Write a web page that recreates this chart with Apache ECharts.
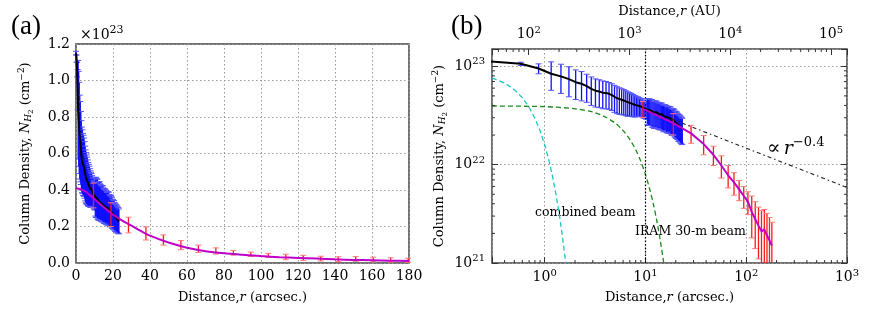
<!DOCTYPE html>
<html><head><meta charset="utf-8">
<script src="https://cdn.jsdelivr.net/npm/echarts@6/dist/echarts.min.js"></script>
<style>html,body{margin:0;padding:0;background:#fff}#c{width:872px;height:309px}</style>
</head><body><div id="c"></div>
<script>
// ---------------- DATA (column density in units of 1e23 cm^-2, radius in arcsec) ----------------
const blueStep = 0.29;            // spacing of the interferometric profile samples (arcsec)
const blackN = [1.15,1.12,1.06,0.95,0.84,0.79,0.74,0.69,0.665,0.63,
  0.59,0.565,0.555,0.54,0.535,0.525,0.51,0.49,0.475,0.465,
  0.457,0.45,0.44,0.43,0.425,0.42,0.412,0.405,0.402,0.40,
  0.395,0.39,0.385,0.375,0.37,0.365,0.362,0.36,0.358,0.355,
  0.35,0.342,0.338,0.34,0.342,0.336,0.33,0.326,0.325,0.327,
  0.326,0.318,0.312,0.31,0.312,0.311,0.305,0.30,0.298,0.30,
  0.302,0.298,0.29,0.285,0.284,0.286,0.284,0.276,0.27,0.266,
  0.265,0.262,0.256,0.25,0.248,0.246,0.242,0.238,0.235,0.232,0.228];
const blueErr = [0.01,0.02,0.04,0.11,0.27,0.26,0.25,0.23,0.22,0.2,
  0.19,0.18,0.175,0.17,0.165,0.16,0.155,0.15,0.145,0.14,
  0.135,0.13,0.125,0.12,0.115,0.11,0.105,0.1,0.095,0.09,
  0.085,0.08,0.08,0.078,0.076,0.075,0.105,0.11,0.108,0.104,
  0.11,0.1,0.105,0.1,0.104,0.098,0.1,0.097,0.1,0.095,
  0.098,0.094,0.096,0.092,0.095,0.09,0.093,0.09,0.088,0.092,
  0.088,0.09,0.086,0.087,0.084,0.086,0.083,0.084,0.08,0.081,
  0.078,0.08,0.076,0.077,0.073,0.075,0.072,0.073,0.07,0.071,0.068];

const redStep = 9.45;             // spacing of single-dish profile samples (arcsec)
const redN   = [0.37,0.265,0.208,0.162,0.126,0.098,0.078,0.066,0.056,0.048,0.042,0.033,0.028,0.024,0.021,0.022,0.019,0.017,0.015];
const redErr = [0.068,0.065,0.043,0.036,0.028,0.025,0.02,0.017,0.013,0.012,0.011,0.015,0.014,0.013,0.013,0.013,0.013,0.012,0.011];

const modelR = [0,2.5,5,7.5,10,12.5,15,17.5,20,25,30,35,40,50,60,70,80,90,100,110,120,130,140,150,160,170,180];
const modelN = [0.41,0.405,0.392,0.372,0.35,0.327,0.305,0.285,0.265,0.232,0.205,0.176,0.15,0.112,0.084,0.065,0.053,0.045,0.038,0.032,0.028,0.024,0.02,0.017,0.015,0.013,0.011];

const cyanR = [0.3,0.4,0.5,0.6,0.7,0.8,0.9,1.0,1.1,1.2,1.3,1.4,1.5,1.6,1.7];
const cyanN = [0.762,0.676,0.579,0.479,0.383,0.296,0.221,0.159,0.111,0.0748,0.0486,0.0306,0.0186,0.0109,0.0062];

const greenR = [0.3,1,2,3,4,5,6,7,8,9,10,11,12,13,14,15,16];
const greenN = [0.395,0.389,0.37,0.343,0.305,0.265,0.222,0.18,0.142,0.108,0.0795,0.0566,0.0394,0.0264,0.0172,0.0109,0.0066];

const powR = [18, 1000];
const powN = [0.292, 0.0586];

const distPc = 144;               // AU per arcsec
const leftXTicks = [0,20,40,60,80,100,120,140,160,180];
const leftYTicks = ['0.0','0.2','0.4','0.6','0.8','1.0','1.2'];
const markR = 10;

// ---------------- build ----------------
const blueData = blackN.map((v, i) => [i * blueStep, v, blueErr[i]]);
const blackData = blackN.map((v, i) => [i * blueStep, v]);
const redData = redN.map((v, i) => [(i + 1) * redStep, v, redErr[i]]);
const redLine = redN.map((v, i) => [(i + 1) * redStep, v]);
const modelData = modelR.map((r, i) => [r, modelN[i]]);
const cyanData = cyanR.map((r, i) => [r, cyanN[i]]);
const greenData = greenR.map((r, i) => [r, greenN[i]]);
const powData = powR.map((r, i) => [r, powN[i]]);
const blueLog = blueData.filter(d => d[0] > 0);
const blackLog = blackData.filter(d => d[0] > 0);

const SERIF = '"DejaVu Serif", serif';
const dotted = {color: '#9a9a9a', type: [1.5, 2.5], width: 1};

const richSup = {
  b: {fontFamily: SERIF, fontSize: 14, color: '#000'},
  s: {fontFamily: SERIF, fontSize: 10, color: '#000', padding: [0, 0, 9, 0]}
};
function logLabel(offset) {
  return function (v) {
    const e = Math.log10(v);
    const r = Math.round(e);
    if (Math.abs(e - r) > 1e-6) return '';
    return '{b|10}{s|' + (r + offset) + '}';
  };
}
const nameX = {fontFamily: SERIF, fontSize: 13, color: '#000',
  rich: {i: {fontFamily: SERIF, fontSize: 13, fontStyle: 'italic', color: '#000'}}};
const nameY = {fontFamily: SERIF, fontSize: 13, color: '#000',
  rich: {
    i: {fontFamily: SERIF, fontSize: 13, fontStyle: 'italic', color: '#000'},
    sub: {fontFamily: SERIF, fontSize: 9, fontStyle: 'italic', color: '#000', padding: [7, 0, 0, 0]},
    sub2: {fontFamily: SERIF, fontSize: 7, color: '#000', padding: [12, 0, 0, 0]},
    sup: {fontFamily: SERIF, fontSize: 9, color: '#000', padding: [0, 0, 8, 0]}
  }};
const yName = 'Column Density, {i|N}{sub|H}{sub2|2} (cm{sup|−2})';

function errBar(color, capColor, logY) {
  return function (params, api) {
    const x = api.value(0), y = api.value(1), e = api.value(2);
    const cs = params.coordSys;
    const top = cs.y, bottom = cs.y + cs.height;
    const pHi = api.coord([x, y + e]);
    const px = pHi[0];
    if (px < cs.x - 0.5 || px > cs.x + cs.width + 0.5) return null;
    let yLo;
    if (logY && y - e <= 0) yLo = bottom + 20; else yLo = api.coord([x, y - e])[1];
    const y0 = Math.min(yLo, bottom), y1 = Math.max(pHi[1], top);
    const ch = [{type: 'line', shape: {x1: px, y1: y1, x2: px, y2: y0}, style: {stroke: color, lineWidth: 1.3}}];
    const c = 3;
    if (pHi[1] >= top) ch.push({type: 'line', shape: {x1: px - c, y1: pHi[1], x2: px + c, y2: pHi[1]}, style: {stroke: capColor, lineWidth: 1}});
    if (yLo <= bottom) ch.push({type: 'line', shape: {x1: px - c, y1: yLo, x2: px + c, y2: yLo}, style: {stroke: capColor, lineWidth: 1}});
    return {type: 'group', children: ch};
  };
}

// minor tick values (2..9 x decades)
function minorVals(lo, hi) {
  const out = [];
  for (let d = Math.floor(Math.log10(lo)); d <= Math.ceil(Math.log10(hi)); d++)
    for (let m = 2; m <= 9; m++) { const v = m * Math.pow(10, d); if (v > lo && v < hi) out.push(v); }
  return out;
}
const tickStyle = {stroke: '#333', lineWidth: 1};
function xMinor(side) {
  return function (params, api) {
    const cs = params.coordSys;
    const x = api.coord([api.value(0), 0.1])[0];
    if (x <= cs.x || x >= cs.x + cs.width) return null;
    const y = side === 'bottom' ? cs.y + cs.height : cs.y;
    const d = side === 'bottom' ? -3 : 3;
    return {type: 'line', shape: {x1: x, y1: y, x2: x, y2: y + d}, style: tickStyle};
  };
}
function yMinor(params, api) {
  const cs = params.coordSys;
  const y = api.coord([1, api.value(1)])[1];
  if (y <= cs.y || y >= cs.y + cs.height) return null;
  return {type: 'group', children: [
    {type: 'line', shape: {x1: cs.x, y1: y, x2: cs.x + 3, y2: y}, style: tickStyle},
    {type: 'line', shape: {x1: cs.x + cs.width, y1: y, x2: cs.x + cs.width - 3, y2: y}, style: tickStyle}
  ]};
}

const majorTick = {show: true, inside: true, length: 6, lineStyle: {color: '#333', width: 1}};

const option = {
  animation: false,
  textStyle: {fontFamily: SERIF},
  grid: [
    {left: 76, top: 44, width: 333, height: 222, show: true, borderColor: '#444', borderWidth: 1.5, backgroundColor: 'transparent'},
    {left: 492, top: 44, width: 355, height: 223, show: true, borderColor: '#444', borderWidth: 1.5, backgroundColor: 'transparent'}
  ],
  xAxis: [
    {gridIndex: 0, type: 'value', min: leftXTicks[0], max: leftXTicks[leftXTicks.length - 1], interval: 20,
      axisLine: {show: false}, axisTick: {show: false},
      axisLabel: {fontFamily: SERIF, fontSize: 14, color: '#000', margin: 6},
      splitLine: {show: true, lineStyle: dotted},
      name: 'Distance,{i|r} (arcsec.)', nameLocation: 'middle', nameGap: 28, nameTextStyle: nameX},
    {gridIndex: 1, type: 'log', min: 0.3, max: 1000, position: 'bottom',
      axisLine: {show: false}, axisTick: majorTick,
      axisLabel: {formatter: logLabel(0), rich: richSup, margin: 5},
      splitLine: {show: true, lineStyle: dotted},
      name: 'Distance,{i|r} (arcsec.)', nameLocation: 'middle', nameGap: 28, nameTextStyle: nameX},
    {gridIndex: 1, type: 'log', min: 0.3 * distPc, max: 1000 * distPc, position: 'top',
      axisLine: {show: false}, axisTick: majorTick,
      axisLabel: {formatter: logLabel(0), rich: richSup, margin: 5},
      splitLine: {show: false},
      name: 'Distance,{i|r} (AU)', nameLocation: 'middle', nameGap: 31, nameTextStyle: nameX}
  ],
  yAxis: [
    {gridIndex: 0, type: 'value', min: 0, max: 1.2, interval: 0.2,
      axisLine: {show: false}, axisTick: {show: false},
      axisLabel: {formatter: v => leftYTicks[Math.round(v / 0.2)] || '', fontFamily: SERIF, fontSize: 14, color: '#000', margin: 6},
      splitLine: {show: true, lineStyle: dotted},
      name: yName, nameLocation: 'middle', nameGap: 41, nameRotate: 90, nameTextStyle: nameY},
    {gridIndex: 1, type: 'log', min: 0.01, max: 1.5, position: 'left',
      axisLine: {show: false}, axisTick: majorTick,
      axisLabel: {formatter: logLabel(23), rich: richSup, margin: 7},
      splitLine: {show: true, lineStyle: dotted},
      name: yName, nameLocation: 'middle', nameGap: 43, nameRotate: 90, nameTextStyle: nameY},
    {gridIndex: 1, type: 'log', min: 0.01, max: 1.5, position: 'right',
      axisLine: {show: false}, axisTick: majorTick, axisLabel: {show: false}, splitLine: {show: false}}
  ],
  series: [
    // ----- panel (a)
    {type: 'custom', xAxisIndex: 0, yAxisIndex: 0, data: blueData, renderItem: errBar('#1010ff', '#5555ff', false), z: 2},
    {type: 'line', xAxisIndex: 0, yAxisIndex: 0, data: blackData, showSymbol: false, lineStyle: {color: '#000', width: 2}, z: 3},
    {type: 'custom', xAxisIndex: 0, yAxisIndex: 0, data: redData, renderItem: errBar('#ff1a1a', '#ff7a7a', false), z: 4},
    {type: 'line', xAxisIndex: 0, yAxisIndex: 0, data: modelData, showSymbol: false, smooth: 0.3, lineStyle: {color: '#c000c8', width: 2}, z: 5},
    // ----- panel (b)
    {type: 'line', xAxisIndex: 1, yAxisIndex: 1, data: cyanData, showSymbol: false, lineStyle: {color: '#20c4c4', width: 1.3, type: [5, 3]}, z: 2},
    {type: 'line', xAxisIndex: 1, yAxisIndex: 1, data: greenData, showSymbol: false, smooth: 0.3, lineStyle: {color: '#1a8a1a', width: 1.3, type: [5, 3]}, z: 2},
    {type: 'custom', xAxisIndex: 1, yAxisIndex: 1, data: blueLog, renderItem: errBar('#1010ff', '#5555ff', true), z: 3},
    {type: 'line', xAxisIndex: 1, yAxisIndex: 1, data: blackLog, showSymbol: false, lineStyle: {color: '#000', width: 2}, z: 4},
    {type: 'custom', xAxisIndex: 1, yAxisIndex: 1, data: redData, renderItem: errBar('#ff1a1a', '#ff7a7a', true), z: 5},
    {type: 'line', xAxisIndex: 1, yAxisIndex: 1, data: redLine, showSymbol: false, lineStyle: {color: '#c000c8', width: 2}, z: 6},
    {type: 'line', xAxisIndex: 1, yAxisIndex: 1, data: powData, showSymbol: false, lineStyle: {color: '#222', width: 1.1, type: [4, 3, 1.5, 3]}, z: 6,
      markLine: {silent: true, symbol: 'none', label: {show: false}, animation: false,
        lineStyle: {color: '#000', type: [1.5, 2], width: 1.2}, data: [{xAxis: markR}]}},
    // minor ticks
    {type: 'custom', xAxisIndex: 1, yAxisIndex: 1, data: minorVals(0.3, 1000).map(v => [v, 0.1]), renderItem: xMinor('bottom'), z: 7, silent: true},
    {type: 'custom', xAxisIndex: 2, yAxisIndex: 1, data: minorVals(0.3 * distPc, 1000 * distPc).map(v => [v, 0.1]), renderItem: xMinor('top'), z: 7, silent: true},
    {type: 'custom', xAxisIndex: 1, yAxisIndex: 1, data: minorVals(0.01, 1.5).map(v => [1, v]), renderItem: yMinor, z: 7, silent: true}
  ],
  graphic: [
    {type: 'text', left: 11, top: 13, style: {text: '(a)', font: '27px "Liberation Serif"', fill: '#000'}},
    {type: 'text', left: 451, top: 13, style: {text: '(b)', font: '27px "Liberation Serif"', fill: '#000'}},
    {type: 'text', left: 80, top: 25, style: {text: '×10{s|23}', fontFamily: SERIF, fontSize: 14, fill: '#000',
      rich: {s: {fontFamily: SERIF, fontSize: 11, fill: '#000', padding: [0, 0, 9, 0]}}}},
    {type: 'text', left: 767, top: 136, style: {text: '{p|∝} {i|r}{s|−0.4}', fill: '#000',
      rich: {p: {fontFamily: SERIF, fontSize: 20, fill: '#000'}, i: {fontFamily: SERIF, fontSize: 19, fontStyle: 'italic', fill: '#000'},
        s: {fontFamily: SERIF, fontSize: 13, fill: '#000', padding: [0, 0, 13, 0]}}}},
    {type: 'text', left: 535, top: 206, style: {text: 'combined beam', fontFamily: SERIF, fontSize: 12.5, fill: '#000'}},
    {type: 'text', left: 635, top: 225, style: {text: 'IRAM 30-m beam', fontFamily: SERIF, fontSize: 12.5, fill: '#000'}}
  ]
};
const chart = echarts.init(document.getElementById('c'));
chart.setOption(option);
</script></body></html>
